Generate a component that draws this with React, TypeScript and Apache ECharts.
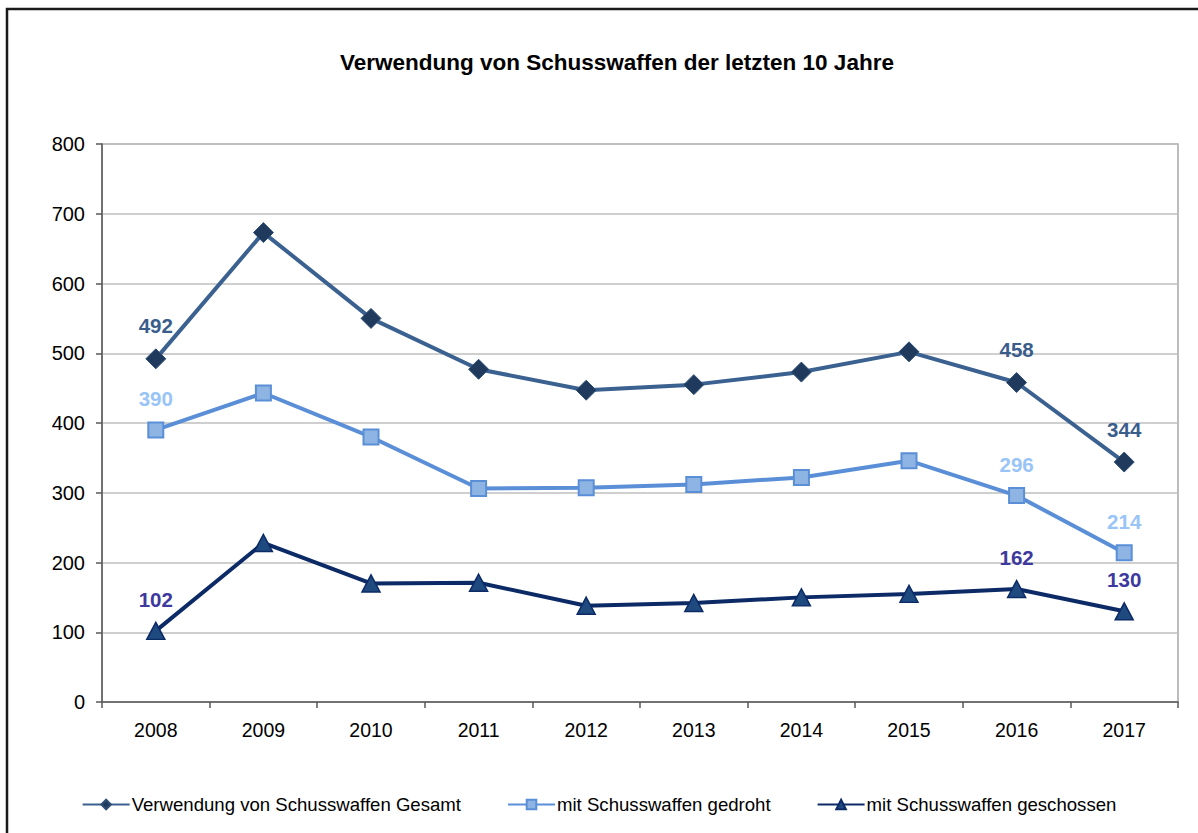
import React, { useEffect, useRef } from "react";
import * as echarts from "echarts";

const years = ["2008", "2009", "2010", "2011", "2012", "2013", "2014", "2015", "2016", "2017"];
const gesamt = [492, 673, 550, 477, 447, 455, 473, 502, 458, 344];
const gedroht = [390, 443, 380, 306, 307, 312, 322, 346, 296, 214];
const geschossen = [102, 228, 170, 171, 138, 142, 150, 155, 162, 130];
const labelledIdx = [0, 8, 9];
const seriesNames = [
  "Verwendung von Schusswaffen Gesamt",
  "mit Schusswaffen gedroht",
  "mit Schusswaffen geschossen",
];
const titleText = "Verwendung von Schusswaffen der letzten 10 Jahre";

const FONT = "'Liberation Sans', Arial, sans-serif";

function withLabels(values: number[]) {
  return values.map((v, i) => ({ value: v, label: { show: labelledIdx.includes(i) } }));
}

export default function App() {
  const ref = useRef<HTMLDivElement>(null);
  useEffect(() => {
    if (!ref.current) return;
    const chart = echarts.init(ref.current, null, { renderer: "svg" });
    const labelBase = { position: "top", distance: 12, fontSize: 20.5, fontWeight: "bold", fontFamily: FONT };
    chart.setOption({
      animation: false,
      backgroundColor: "#fff",
      title: {
        text: titleText,
        left: 335,
        top: 46,
        textStyle: { fontSize: 22.5, fontWeight: "bold", color: "#000", fontFamily: FONT },
      },
      graphic: [
        {
          type: "rect",
          shape: { x: 7, y: 9, width: 1220, height: 900 },
          style: { fill: "none", stroke: "#1a1a1a", lineWidth: 2.5 },
          silent: true,
        },
      ],
      grid: {
        left: 102,
        right: 20,
        top: 144,
        bottom: 131,
        show: true,
        borderColor: "#A6A6A6",
        borderWidth: 1.5,
        backgroundColor: "transparent",
      },
      legend: {
        left: "center",
        top: 790,
        itemWidth: 47,
        itemHeight: 12,
        itemGap: 46,
        textStyle: { fontSize: 18.6, color: "#000", fontFamily: FONT, padding: [0, 0, 0, -3] },
        data: seriesNames,
      },
      xAxis: {
        type: "category",
        data: years,
        boundaryGap: true,
        axisLine: { lineStyle: { color: "#595959", width: 1.5 } },
        axisTick: { show: true, length: 6, inside: false, lineStyle: { color: "#595959", width: 1.5 } },
        axisLabel: { margin: 18, fontSize: 19.5, color: "#000", fontFamily: FONT },
        splitLine: { show: false },
      },
      yAxis: {
        type: "value",
        min: 0,
        max: 800,
        interval: 100,
        axisLine: { show: true, lineStyle: { color: "#595959", width: 1.5 } },
        axisTick: { show: true, length: 6, lineStyle: { color: "#595959", width: 1.5 } },
        axisLabel: { margin: 17, fontSize: 20, color: "#000", fontFamily: FONT },
        splitLine: { show: true, lineStyle: { color: "#BFBFBF", width: 1.5 } },
      },
      series: [
        {
          name: seriesNames[0],
          type: "line",
          data: withLabels(gesamt),
          symbol: "diamond",
          symbolSize: 20,
          lineStyle: { color: "#3B6190", width: 4 },
          itemStyle: { color: "#1F3A5C", borderColor: "#2E4E75", borderWidth: 1 },
          label: { ...labelBase, color: "#3A5E8C" },
          z: 3,
        },
        {
          name: seriesNames[1],
          type: "line",
          data: withLabels(gedroht),
          symbol: "rect",
          symbolSize: 15,
          lineStyle: { color: "#5A8FD8", width: 4 },
          itemStyle: { color: "#8EB4E3", borderColor: "#5A8FD8", borderWidth: 2 },
          label: { ...labelBase, color: "#99C4F7" },
          z: 3,
        },
        {
          name: seriesNames[2],
          type: "line",
          data: withLabels(geschossen),
          symbol: "triangle",
          symbolSize: [18, 17],
          lineStyle: { color: "#0C2A66", width: 4 },
          itemStyle: { color: "#1F4A80", borderColor: "#0C2A66", borderWidth: 1.5 },
          label: { ...labelBase, color: "#3D399E" },
          z: 3,
        },
      ],
    });
    return () => chart.dispose();
  }, []);
  return (
    <div
      ref={ref}
      style={{ position: "absolute", left: 0, top: 0, width: 1198, height: 833 }}
    />
  );
}
